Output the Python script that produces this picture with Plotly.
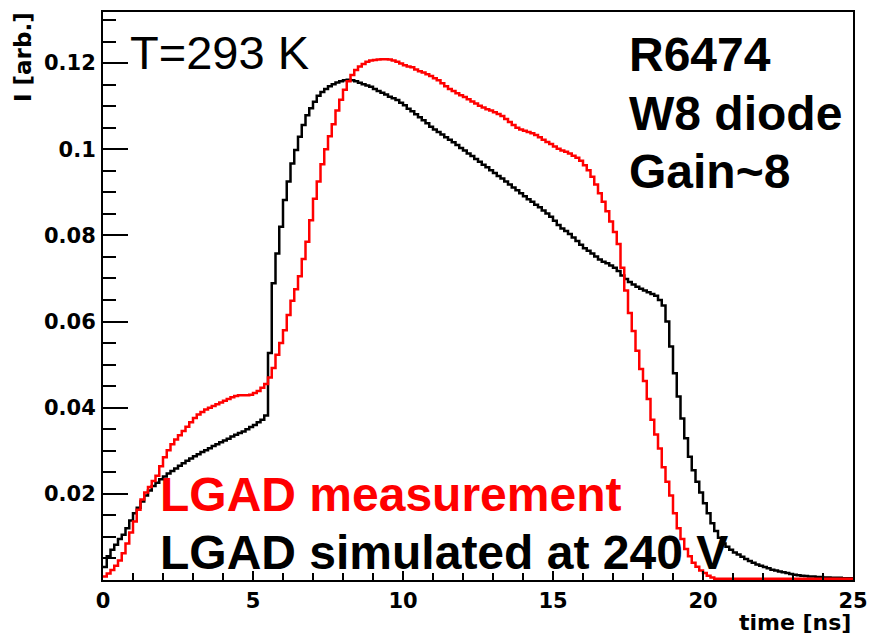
import numpy as np
import plotly.graph_objects as go

# ---------------- data ----------------
bin_width_ns = 0.125  # 200 bins from 0 to 25 ns

simulated_240V = [
    0.0030, 0.0055, 0.0070, 0.0082, 0.0095, 0.0105, 0.0120, 0.0138, 0.0155, 0.0168,
    0.0182, 0.0196, 0.0208, 0.0218, 0.0226, 0.0234, 0.0240, 0.0247, 0.0253, 0.0259,
    0.0265, 0.0271, 0.0277, 0.0282, 0.0287, 0.0292, 0.0297, 0.0301, 0.0306, 0.0311,
    0.0315, 0.0320, 0.0324, 0.0328, 0.0333, 0.0337, 0.0341, 0.0345, 0.0350, 0.0355,
    0.0360, 0.0366, 0.0372, 0.0382, 0.0527, 0.0689, 0.0758, 0.0820, 0.0882, 0.0925,
    0.0967, 0.0998, 0.1029, 0.1056, 0.1079, 0.1095, 0.1110, 0.1124, 0.1133, 0.1140,
    0.1146, 0.1151, 0.1155, 0.1158, 0.1160, 0.1161, 0.1160, 0.1158, 0.1154, 0.1151,
    0.1148, 0.1145, 0.1140, 0.1135, 0.1131, 0.1127, 0.1122, 0.1118, 0.1114, 0.1108,
    0.1102, 0.1094, 0.1088, 0.1081, 0.1074, 0.1067, 0.1060, 0.1052, 0.1046, 0.1040,
    0.1034, 0.1028, 0.1022, 0.1016, 0.1010, 0.1003, 0.0997, 0.0990, 0.0984, 0.0977,
    0.0971, 0.0964, 0.0958, 0.0951, 0.0945, 0.0938, 0.0932, 0.0925, 0.0918, 0.0911,
    0.0905, 0.0898, 0.0891, 0.0884, 0.0878, 0.0871, 0.0865, 0.0858, 0.0851, 0.0843,
    0.0834, 0.0824, 0.0816, 0.0810, 0.0803, 0.0795, 0.0787, 0.0778, 0.0770, 0.0764,
    0.0758, 0.0751, 0.0744, 0.0739, 0.0735, 0.0730, 0.0725, 0.0717, 0.0707, 0.0699,
    0.0692, 0.0686, 0.0681, 0.0676, 0.0672, 0.0668, 0.0664, 0.0660, 0.0650, 0.0637,
    0.0600, 0.0542, 0.0480, 0.0426, 0.0375, 0.0329, 0.0286, 0.0255, 0.0228, 0.0203,
    0.0178, 0.0155, 0.0132, 0.0114, 0.0098, 0.0085, 0.0077, 0.0070, 0.0064, 0.0059,
    0.0054, 0.0049, 0.0044, 0.0040, 0.0036, 0.0033, 0.0030, 0.0027, 0.0024, 0.0022,
    0.0020, 0.0018, 0.0016, 0.0014, 0.0012, 0.0011, 0.0010, 0.0009, 0.0008, 0.0008,
    0.0007, 0.0007, 0.0006, 0.0006, 0.0005, 0.0005, 0.0005, 0.0004, 0.0004, 0.0004,
]

measurement = [
    0.0008, 0.0015, 0.0023, 0.0033, 0.0045, 0.0062, 0.0085, 0.0110, 0.0136, 0.0163,
    0.0187, 0.0203, 0.0216, 0.0230, 0.0242, 0.0264, 0.0285, 0.0301, 0.0315, 0.0326,
    0.0336, 0.0346, 0.0356, 0.0366, 0.0376, 0.0384, 0.0390, 0.0396, 0.0400, 0.0404,
    0.0408, 0.0412, 0.0416, 0.0420, 0.0424, 0.0427, 0.0429, 0.0429, 0.0429, 0.0430,
    0.0434, 0.0439, 0.0446, 0.0455, 0.0470, 0.0492, 0.0523, 0.0550, 0.0580, 0.0615,
    0.0648, 0.0675, 0.0705, 0.0745, 0.0785, 0.0835, 0.0885, 0.0925, 0.0965, 0.1000,
    0.1030, 0.1058, 0.1090, 0.1115, 0.1138, 0.1158, 0.1172, 0.1184, 0.1192, 0.1198,
    0.1203, 0.1206, 0.1207, 0.1208, 0.1209, 0.1209, 0.1208, 0.1206, 0.1203, 0.1199,
    0.1195, 0.1192, 0.1190, 0.1185, 0.1181, 0.1178, 0.1174, 0.1170, 0.1165, 0.1160,
    0.1153, 0.1146, 0.1140, 0.1135, 0.1130, 0.1125, 0.1121, 0.1116, 0.1111, 0.1106,
    0.1101, 0.1097, 0.1093, 0.1090, 0.1086, 0.1082, 0.1077, 0.1070, 0.1063, 0.1056,
    0.1050, 0.1046, 0.1043, 0.1040, 0.1037, 0.1033, 0.1028, 0.1022, 0.1017, 0.1012,
    0.1006, 0.1001, 0.0997, 0.0994, 0.0990, 0.0985, 0.0980, 0.0973, 0.0963, 0.0951,
    0.0936, 0.0918, 0.0898, 0.0878, 0.0856, 0.0832, 0.0808, 0.0780, 0.0725, 0.0672,
    0.0620, 0.0578, 0.0532, 0.0490, 0.0462, 0.0420, 0.0372, 0.0338, 0.0305, 0.0262,
    0.0228, 0.0196, 0.0155, 0.0120, 0.0095, 0.0072, 0.0055, 0.0040, 0.0031, 0.0022,
    0.0016, 0.0010, 0.0006, 0.0003, 0.0003, 0.0003, 0.0003, 0.0003, 0.0003, 0.0003,
    0.0003, 0.0003, 0.0003, 0.0003, 0.0003, 0.0003, 0.0003, 0.0003, 0.0003, 0.0003,
    0.0003, 0.0003, 0.0003, 0.0003, 0.0003, 0.0003, 0.0003, 0.0003, 0.0003, 0.0003,
    0.0003, 0.0003, 0.0003, 0.0003, 0.0003, 0.0003, 0.0003, 0.0003, 0.0003, 0.0003,
]

x_tick_values = [0, 5, 10, 15, 20, 25]
x_tick_labels = ["0", "5", "10", "15", "20", "25"]
y_tick_values = [0.02, 0.04, 0.06, 0.08, 0.1, 0.12]
y_tick_labels = ["0.02", "0.04", "0.06", "0.08", "0.1", "0.12"]

# ---------------- layout geometry ----------------
W, H = 869, 637
ML, MR, MT, MB = 103, 16, 12, 57
PW, PH = W - ML - MR, H - MT - MB


def px(x):
    return (x - ML) / PW


def py(y):
    return (H - MB - y) / PH


def hist_xy(vals):
    edges = np.arange(len(vals) + 1) * bin_width_ns
    return edges, list(vals) + [vals[-1]]


fig = go.Figure()
xs, ys = hist_xy(simulated_240V)
fig.add_trace(go.Scatter(x=xs, y=ys, mode="lines", line=dict(color="black", width=2.5, shape="hv"),
                         showlegend=False, hoverinfo="skip"))
xs, ys = hist_xy(measurement)
fig.add_trace(go.Scatter(x=xs, y=ys, mode="lines", line=dict(color="#ff0000", width=2.5, shape="hv"),
                         showlegend=False, hoverinfo="skip"))

tickfont = dict(family="DejaVu Sans", size=21, color="black", weight="bold")

fig.update_layout(
    width=W, height=H,
    margin=dict(l=ML, r=MR, t=MT, b=MB, pad=0, autoexpand=False),
    paper_bgcolor="white", plot_bgcolor="white",
    xaxis=dict(range=[0, 25], showgrid=False, zeroline=False, showline=True, mirror=True,
               automargin=False,
               linecolor="black", linewidth=2, ticks="inside", ticklen=9, tickwidth=2,
               tickcolor="black", tickmode="array", tickvals=x_tick_values, ticktext=x_tick_labels,
               tickfont=tickfont, ticklabelstandoff=1,
               minor=dict(tickmode="linear", tick0=0, dtick=1, ticks="inside", ticklen=7,
                          tickwidth=2, tickcolor="black", showgrid=False)),
    yaxis=dict(range=[0, 0.13185], showgrid=False, zeroline=False, showline=True, mirror=True,
               automargin=False,
               linecolor="black", linewidth=2, ticks="inside", ticklen=25, tickwidth=2,
               tickcolor="black", tickmode="array", tickvals=y_tick_values, ticktext=y_tick_labels,
               tickfont=tickfont, ticklabelstandoff=1,
               minor=dict(tickmode="linear", tick0=0, dtick=0.005, ticks="inside", ticklen=13,
                          tickwidth=2, tickcolor="black", showgrid=False)),
)

SANS = "Liberation Sans, Arial, sans-serif"
FS = 48
ASC = 0.905


def text_at(txt, left, baseline, color="black", bold=True, size=FS):
    top = baseline - ASC * size - 1 - 5
    fig.add_annotation(text=txt, xref="paper", yref="paper", x=px(left - 5), y=py(top),
                       xanchor="left", yanchor="top", showarrow=False,
                       font=dict(family=SANS, size=size, color=color,
                                 weight="bold" if bold else "normal"))


text_at("T=293 K", 133, 73, bold=False, size=47)
text_at("R6474", 632, 75)
text_at("W8 diode", 632, 134)
text_at("Gain~8", 632, 192)
text_at("LGAD measurement", 163, 515, color="#ff0000")
text_at("LGAD simulated at 240 V", 163, 573)

# axis titles (ROOT style: aligned to the axis end)
fig.add_annotation(text="time [ns]", xref="paper", yref="paper", x=px(853), y=py(608),
                   xanchor="right", yanchor="top", showarrow=False,
                   font=dict(family="DejaVu Sans", size=22, color="black", weight="bold"))
fig.add_annotation(text="I [arb.]", xref="paper", yref="paper", x=px(23), y=py(10),
                   xanchor="center", yanchor="top", textangle=-90, showarrow=False,
                   font=dict(family="DejaVu Sans", size=23, color="black", weight="bold"))

fig.write_html("out.html", config={"displayModeBar": False},
               post_script="document.body.style.margin='0px';")
